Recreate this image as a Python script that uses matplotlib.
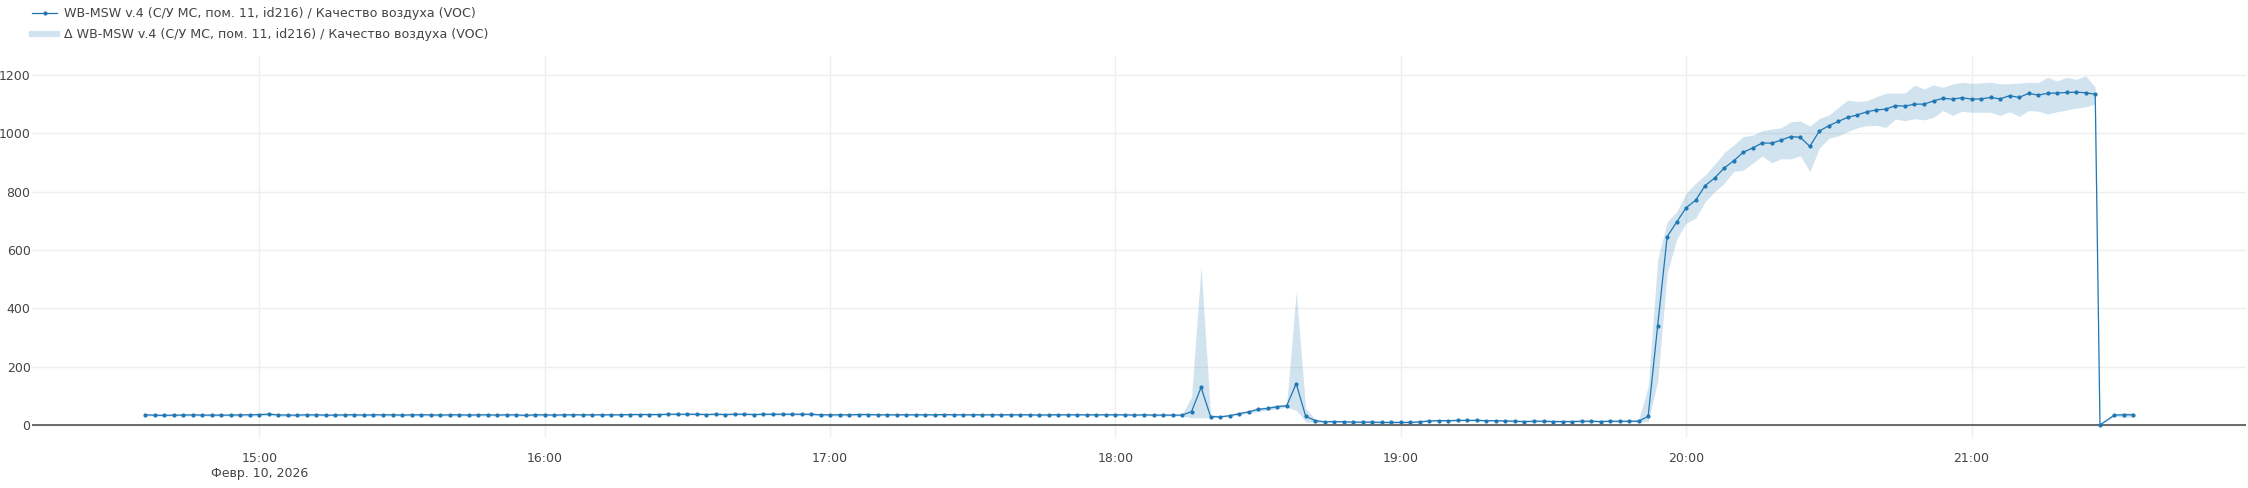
import matplotlib
matplotlib.use("Agg")
import matplotlib.pyplot as plt
from matplotlib.lines import Line2D
import pandas as pd

# sampling: every 2 minutes from 14:36 to 21:26, then a few irregular readings
day = "2026-02-10"
regular_start = "14:36"
regular_end = "21:26"
tail_times = ["21:27", "21:30", "21:32", "21:34"]

voc_mean = [
    35, 34, 33, 34, 34, 35, 34, 34, 34, 34,
    35, 35, 36, 37, 35, 34, 34, 35, 35, 34,
    34, 35, 35, 34, 35, 35, 35, 34, 35, 35,
    35, 34, 35, 35, 34, 35, 35, 34, 35, 35,
    33, 35, 35, 34, 35, 35, 35, 35, 35, 35,
    35, 36, 36, 36, 36, 37, 37, 37, 37, 36,
    37, 36, 37, 37, 36, 37, 37, 37, 37, 37,
    37, 35, 35, 35, 35, 36, 36, 35, 35, 35,
    35, 35, 35, 35, 36, 35, 35, 35, 35, 35,
    35, 35, 35, 35, 34, 35, 35, 35, 35, 35,
    35, 35, 35, 35, 34, 35, 34, 34, 34, 34,
    46, 129, 29, 28, 32, 39, 45, 54, 57, 63,
    66, 142, 30, 15, 11, 12, 11, 10, 10, 10,
    9, 9, 9, 9, 11, 14, 15, 15, 16, 16,
    16, 15, 15, 14, 13, 12, 13, 13, 12, 12,
    12, 13, 13, 12, 13, 13, 13, 13, 30, 340,
    646, 696, 745, 771, 821, 847, 881, 906, 935, 950,
    967, 966, 977, 989, 986, 955, 1008, 1026, 1041, 1055,
    1063, 1074, 1080, 1083, 1095, 1093, 1100, 1100, 1111, 1120,
    1117, 1122, 1117, 1118, 1123, 1118, 1129, 1123, 1137, 1131,
    1137, 1138, 1140, 1141, 1139, 1134,
    0, 34, 35, 35,
]

voc_min = [
    31, 31, 30, 31, 31, 31, 31, 30, 31, 31,
    31, 30, 32, 33, 30, 29, 30, 31, 31, 31,
    31, 31, 31, 31, 31, 31, 31, 31, 31, 31,
    31, 31, 31, 31, 31, 31, 31, 31, 31, 31,
    30, 31, 31, 31, 31, 32, 32, 32, 32, 32,
    32, 33, 33, 33, 33, 34, 34, 34, 34, 33,
    34, 33, 34, 34, 33, 34, 34, 34, 34, 34,
    33, 31, 31, 31, 31, 32, 32, 32, 32, 32,
    32, 32, 32, 32, 32, 32, 32, 32, 32, 32,
    32, 32, 32, 32, 31, 32, 32, 32, 32, 32,
    32, 32, 32, 32, 31, 32, 31, 31, 31, 31,
    25, 25, 25, 26, 29, 35, 40, 47, 51, 56,
    61, 51, 11, 8, 8, 9, 8, 7, 7, 7,
    6, 6, 6, 6, 8, 11, 12, 12, 13, 13,
    13, 12, 12, 11, 10, 9, 10, 10, 9, 9,
    9, 10, 10, 9, 10, 10, 10, 10, 12, 149,
    521, 637, 692, 709, 766, 800, 829, 869, 874, 898,
    922, 899, 913, 912, 923, 869, 949, 983, 991, 1006,
    1019, 1026, 1027, 1020, 1049, 1043, 1050, 1046, 1055, 1078,
    1061, 1076, 1072, 1072, 1072, 1061, 1074, 1058, 1078, 1076,
    1066, 1074, 1080, 1086, 1091, 1100,
    0, 30, 26, 28,
]

voc_max = [
    38, 38, 37, 38, 38, 39, 38, 38, 38, 38,
    39, 39, 40, 41, 39, 38, 38, 39, 39, 38,
    38, 39, 39, 38, 39, 39, 39, 38, 39, 39,
    39, 38, 39, 39, 38, 39, 39, 38, 39, 39,
    37, 39, 39, 38, 39, 39, 39, 39, 39, 39,
    39, 40, 40, 40, 40, 41, 41, 41, 41, 40,
    41, 40, 41, 41, 40, 41, 41, 41, 41, 41,
    41, 39, 39, 39, 39, 40, 40, 39, 39, 39,
    39, 39, 39, 39, 40, 39, 39, 39, 39, 39,
    39, 39, 39, 39, 38, 39, 39, 39, 39, 39,
    39, 39, 39, 39, 38, 39, 38, 38, 38, 36,
    97, 543, 35, 33, 36, 43, 50, 59, 63, 69,
    72, 457, 57, 20, 15, 16, 15, 14, 14, 14,
    13, 13, 13, 13, 15, 18, 19, 19, 20, 20,
    20, 19, 19, 18, 17, 16, 17, 17, 16, 16,
    16, 17, 17, 16, 17, 17, 17, 20, 131, 566,
    697, 731, 795, 829, 857, 895, 934, 960, 989, 994,
    1009, 1015, 1019, 1040, 1042, 1025, 1051, 1063, 1089, 1114,
    1109, 1112, 1126, 1137, 1138, 1138, 1165, 1152, 1166, 1158,
    1169, 1175, 1171, 1173, 1175, 1170, 1170, 1172, 1175, 1174,
    1192, 1179, 1192, 1185, 1197, 1158,
    0, 38, 43, 42,
]

series_label = "WB-MSW v.4 (С/У МС, пом. 11, id216) / Качество воздуха (VOC)"
band_label = "Δ WB-MSW v.4 (С/У МС, пом. 11, id216) / Качество воздуха (VOC)"
date_label = "Февр. 10, 2026"
y_ticks = [0, 200, 400, 600, 800, 1000, 1200]
x_hours = ["15:00", "16:00", "17:00", "18:00", "19:00", "20:00", "21:00"]

times = list(pd.date_range(f"{day} {regular_start}", f"{day} {regular_end}", freq="2min"))
times += [pd.Timestamp(f"{day} {t}") for t in tail_times]

blue = "#1f77b4"
text_col = "#444444"

W, H = 2248, 488
fig = plt.figure(figsize=(W / 100, H / 100), dpi=100)
ax = fig.add_axes([32 / W, 1 - 437 / H, (2246 - 32) / W, (437 - 56) / H])

ax.fill_between(times, voc_min, voc_max, color=blue, alpha=0.2, lw=0, zorder=2)
ax.axhline(0, color=text_col, lw=1.1, zorder=3)
ax.plot(times, voc_mean, color=blue, lw=0.9, marker="o", ms=2.0, zorder=4)

ax.set_xlim(pd.Timestamp(f"{day} 14:12:12"), pd.Timestamp(f"{day} 21:57:42"))
ax.set_ylim(-41, 1265)

tick_pos = [pd.Timestamp(f"{day} {h}") for h in x_hours]
tick_lab = list(x_hours)
tick_lab[0] = x_hours[0] + "\n" + date_label
ax.set_xticks(tick_pos)
ax.set_xticklabels(tick_lab)
ax.set_yticks(y_ticks)
ax.tick_params(axis="x", length=0, pad=11, labelsize=9, labelcolor=text_col)
ax.tick_params(axis="y", length=0, pad=1, labelsize=9, labelcolor=text_col)

ax.grid(True, color="#eeeeee", lw=1, zorder=0)
ax.set_axisbelow(True)
for s in ax.spines.values():
    s.set_visible(False)

handles = [
    Line2D([], [], color=blue, lw=0.9, marker="o", ms=2.0),
    Line2D([], [], color=blue, alpha=0.2, lw=4.5),
]
fig.legend(handles, [series_label, band_label], loc="upper left",
           bbox_to_anchor=(32 / W, 1 - 7 / H), frameon=False, fontsize=9.1,
           labelcolor=text_col, handlelength=2.0, handletextpad=0.5,
           labelspacing=0.65, borderpad=0, borderaxespad=0)

fig.savefig("out.png", dpi=100)
